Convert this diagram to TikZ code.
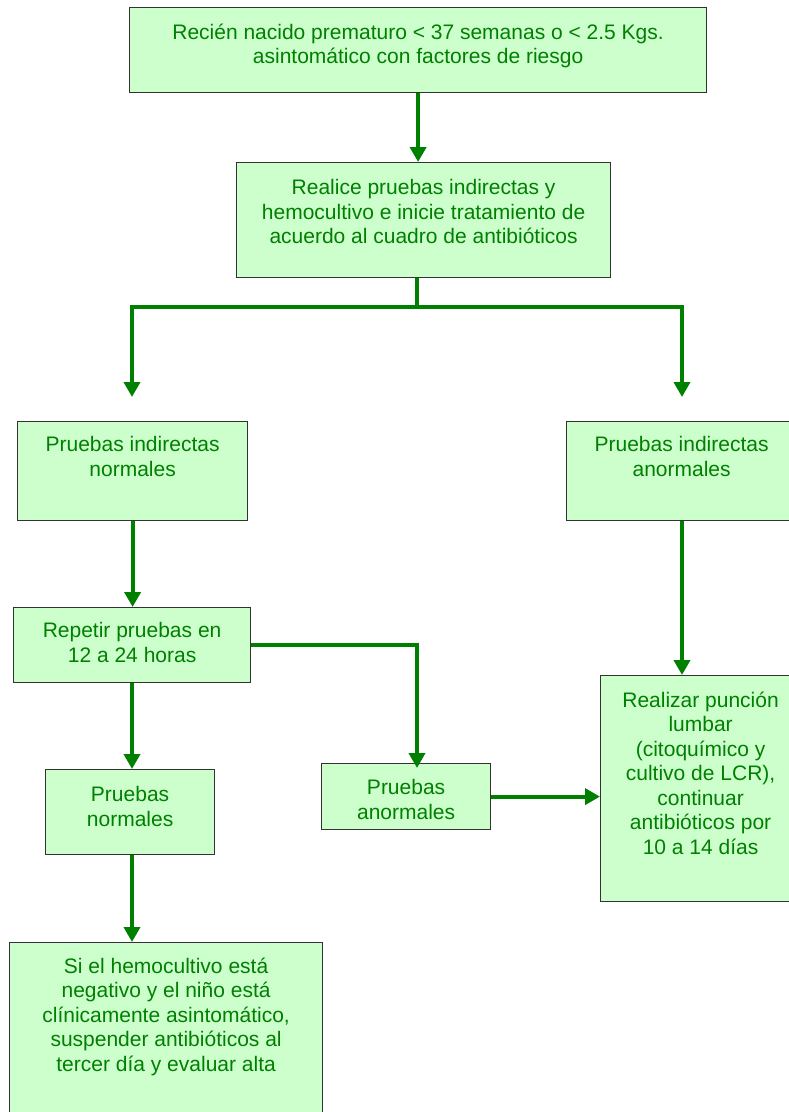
\documentclass[tikz,border=0pt]{standalone}
\usepackage{fontspec}
\setmainfont{Liberation Sans}
\usetikzlibrary{arrows.meta}
\definecolor{boxfill}{HTML}{CCFFCC}
\definecolor{txtgreen}{HTML}{008000}
\tikzset{
    box/.style = {draw = black!80, line width = 1.2pt, fill = boxfill, anchor = north west, inner sep = 0},
    txt/.style = {anchor = north, align = center, inner sep = 0, text = txtgreen, font = \fontsize{21}{24.5}\selectfont, execute at begin node = \rule{0pt}{20pt}},
    arrow/.style = {->, draw = txtgreen, line width = 4pt}
}
\begin{document}
\begin{tikzpicture}[x = 1pt, y = -1pt, >={Triangle[width = 16pt, length = 15pt]}]
        \useasboundingbox (0, 0) rectangle (789, 1112);
        \node[box, minimum width = 577pt, minimum height = 85pt] (1) at (129, 7) {};
        \node[box, minimum width = 374pt, minimum height = 115pt] (2) at (236, 162) {};
        \node[box, minimum width = 230pt, minimum height = 99pt] (3) at (17, 421) {};
        \node[box, minimum width = 230pt, minimum height = 99pt] (4) at (566, 421) {};
        \node[box, minimum width = 237pt, minimum height = 75pt] (5) at (13, 607) {};
        \node[box, minimum width = 169pt, minimum height = 85pt] (6) at (45, 769) {};
        \node[box, minimum width = 169pt, minimum height = 66pt] (7) at (321, 763) {};
        \node[box, minimum width = 200pt, minimum height = 226pt] (8) at (600, 675) {};
        \node[box, minimum width = 313pt, minimum height = 190pt] (9) at (9, 942) {};

        \node[txt] (t1) at ([yshift = -16.5pt]1.north) {Recién nacido prematuro < 37 semanas o < 2.5 Kgs. \\ asintomático con factores de riesgo};
        \node[txt] (t2) at ([yshift = -17.5pt]2.north) {Realice pruebas indirectas y \\ hemocultivo e inicie tratamiento de \\ acuerdo al cuadro de antibióticos};
        \node[txt] (t3) at ([yshift = -15.5pt]3.north) {Pruebas indirectas \\ normales};
        \node[txt] (t4) at ([yshift = -15.5pt]4.north) {Pruebas indirectas \\ anormales};
        \node[txt] (t5) at ([yshift = -15.5pt]5.north) {Repetir pruebas en \\ 12 a 24 horas};
        \node[txt] (t6) at ([yshift = -17.5pt]6.north) {Pruebas \\ normales};
        \node[txt] (t7) at ([yshift = -16.5pt]7.north) {Pruebas \\ anormales};
        \node[txt] (t8) at ([yshift = -16.5pt]8.north) {Realizar punción \\ lumbar \\ (citoquímico y \\ cultivo de LCR), \\ continuar \\ antibióticos por \\ 10 a 14 días};
        \node[txt] (t9) at ([yshift = -15.5pt]9.north) {Si el hemocultivo está \\ negativo y el niño está \\ clínicamente asintomático, \\ suspender antibióticos al \\ tercer día y evaluar alta};

        \coordinate (split) at (417, 307);
        \coordinate (tipL) at (132, 397);
        \coordinate (tipR) at (682, 397);

        \draw[arrow] (1.south) -- (1.south |- 2.north);
        \draw[arrow, -] (split |- 2.south) -- (split);
        \draw[arrow] (split) -| (tipL);
        \draw[arrow] (split) -| (tipR);
        \draw[arrow] (3.south) -- (3.south |- 5.north);
        \draw[arrow] (4.south -| tipR) -- (tipR |- 8.north);
        \draw[arrow] (5.east) -| ([yshift = -5pt]7.north -| split);
        \draw[arrow] (5.south -| tipL) -- (tipL |- 6.north);
        \draw[arrow] (6.south -| tipL) -- (tipL |- 9.north);
        \draw[arrow] (7.east) -- (7.east -| 8.west);
\end{tikzpicture}
\end{document}
